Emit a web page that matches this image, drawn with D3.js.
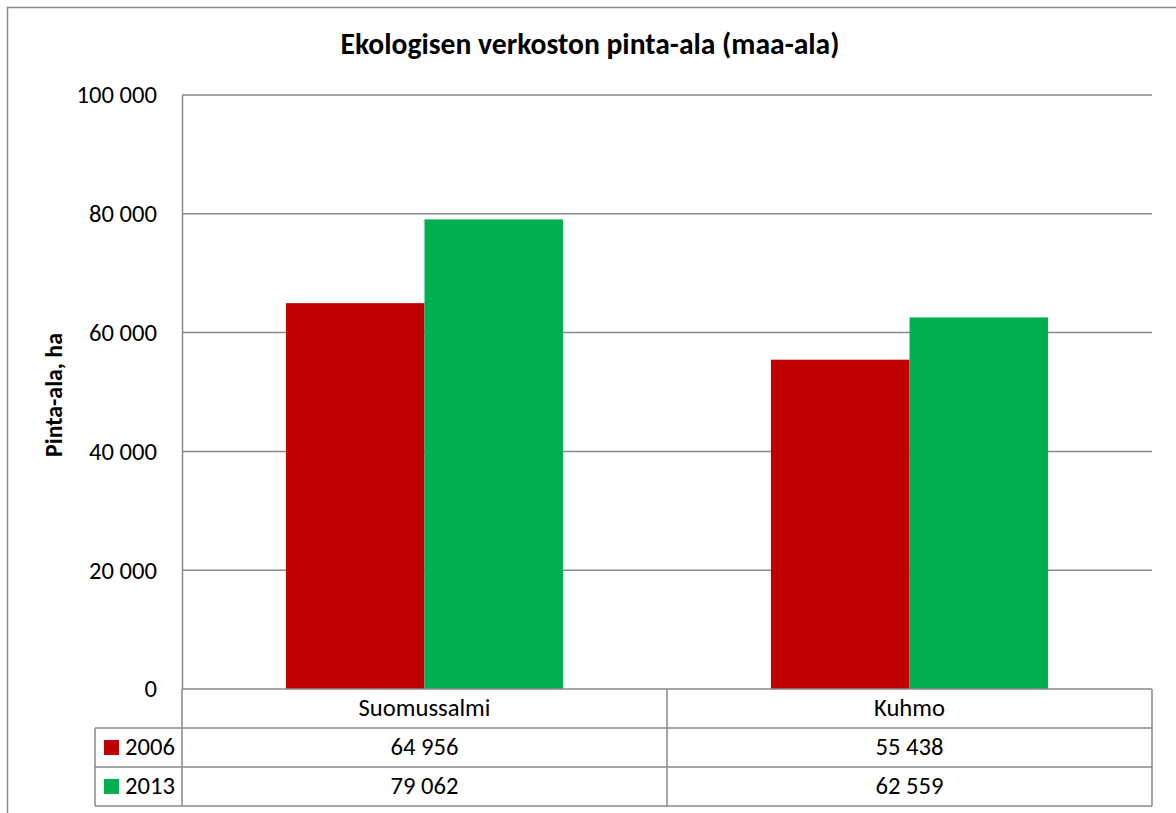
<!DOCTYPE html>
<html><head><meta charset="utf-8">
<script src="https://cdn.jsdelivr.net/npm/d3@7"></script>
<style>
html,body{margin:0;padding:0;background:#fff;}
svg{display:block;}
svg text{font-family:Carlito,Calibri,Lato,"Liberation Sans",sans-serif;}
</style></head>
<body>
<svg id="c" width="1176" height="813"></svg>
<script>
const categories = ["Suomussalmi", "Kuhmo"];
const seriesNames = ["2006", "2013"];
const values2006 = [64956, 55438];
const values2013 = [79062, 62559];
const seriesColors = ["#C00000", "#00B050"];
const yTicks = [0, 20000, 40000, 60000, 80000, 100000];
const title = "Ekologisen verkoston pinta-ala (maa-ala)";
const yTitle = "Pinta-ala, ha";

const series = [values2006, values2013];
const svg = d3.select("#c");
const fmt = v => d3.format(",")(v).replace(/,/g, " ");

const L = 182, R = 1152, T = 95, B = 689;
const rowH = 39;
const legL = 95;
const gridColor = "#898989";

// measure helper: font size so that a text reaches a target width
function fitSize(str, target, weight) {
  const t = svg.append("text").attr("font-size", 100).attr("font-weight", weight).text(str);
  const w = t.node().getComputedTextLength();
  t.remove();
  return 100 * target / w;
}
const fsBody = fitSize("Suomussalmi", 132, "normal");
const fsTitle = fitSize(title, 499, "bold");
const fsAxisTitle = fitSize(yTitle, 124, "bold");

// outer chart border
svg.append("rect").attr("x", 7.5).attr("y", 7.5).attr("width", 1176).attr("height", 813)
  .attr("fill", "none").attr("stroke", gridColor).attr("stroke-width", 1.5);

const x0 = d3.scaleBand().domain(categories).range([L, R]).padding(0);
const x1 = d3.scaleBand().domain(seriesNames).range([0, x0.bandwidth()]).paddingInner(0).paddingOuter(0.75);
const y = d3.scaleLinear().domain([0, 100000]).range([B, T]);

// gridlines
svg.append("g").selectAll("line").data(yTicks.filter(t => t > 0)).join("line")
  .attr("x1", L).attr("x2", R).attr("y1", d => y(d)).attr("y2", d => y(d))
  .attr("stroke", gridColor).attr("stroke-width", 1.5);

// bars
const g = svg.append("g");
categories.forEach((c, ci) => {
  seriesNames.forEach((s, si) => {
    const v = series[si][ci];
    g.append("rect")
      .attr("x", x0(c) + x1(s)).attr("width", x1.bandwidth())
      .attr("y", y(v)).attr("height", y(0) - y(v))
      .attr("fill", seriesColors[si]);
  });
});

// y axis
const yAxis = d3.axisLeft(y).tickValues(yTicks).tickFormat(fmt).tickSize(0).tickPadding(25);
const ya = svg.append("g").attr("transform", `translate(${L},0)`).call(yAxis);
ya.attr("font-family", null).attr("font-size", null);
ya.select(".domain").attr("stroke", gridColor).attr("stroke-width", 1.5);
ya.selectAll("text").attr("font-size", fsBody).attr("fill", "#000").attr("dy", "0.32em");

// y title
svg.append("text").attr("transform", `translate(62,395) rotate(-90)`)
  .attr("text-anchor", "middle").attr("font-size", fsAxisTitle).attr("font-weight", "bold").text(yTitle);

// title
svg.append("text").attr("x", 590).attr("y", 54).attr("text-anchor", "middle")
  .attr("font-size", fsTitle).attr("font-weight", "bold").text(title);

// data table
const tb = svg.append("g").attr("stroke", gridColor).attr("stroke-width", 1.5);
tb.append("line").attr("x1", L).attr("x2", R).attr("y1", B).attr("y2", B);
[1, 2, 3].forEach(i => {
  tb.append("line").attr("x1", legL).attr("x2", R).attr("y1", B + rowH * i).attr("y2", B + rowH * i);
});
[L, ...categories.map(c => x0(c) + x0.bandwidth())].forEach(xv => {
  tb.append("line").attr("x1", xv).attr("x2", xv).attr("y1", B).attr("y2", B + rowH * 3);
});
tb.append("line").attr("x1", legL).attr("x2", legL).attr("y1", B + rowH).attr("y2", B + rowH * 3);

const tt = svg.append("g").attr("fill", "#000");
const base = rowH / 2 + 7.5;
categories.forEach((c, ci) => {
  tt.append("text").attr("x", x0(c) + x0.bandwidth() / 2).attr("y", B + base)
    .attr("font-size", fsBody).attr("text-anchor", "middle").text(c);
  seriesNames.forEach((s, si) => {
    tt.append("text").attr("x", x0(c) + x0.bandwidth() / 2).attr("y", B + rowH * (si + 1) + base)
      .attr("font-size", fsBody).attr("text-anchor", "middle").text(fmt(series[si][ci]));
  });
});
seriesNames.forEach((s, si) => {
  const ry = B + rowH * (si + 1);
  svg.append("rect").attr("x", 104).attr("y", ry + 12).attr("width", 15).attr("height", 15)
    .attr("fill", seriesColors[si]);
  tt.append("text").attr("x", 125).attr("y", ry + base).attr("font-size", fsBody).text(s);
});
</script>
</body></html>
